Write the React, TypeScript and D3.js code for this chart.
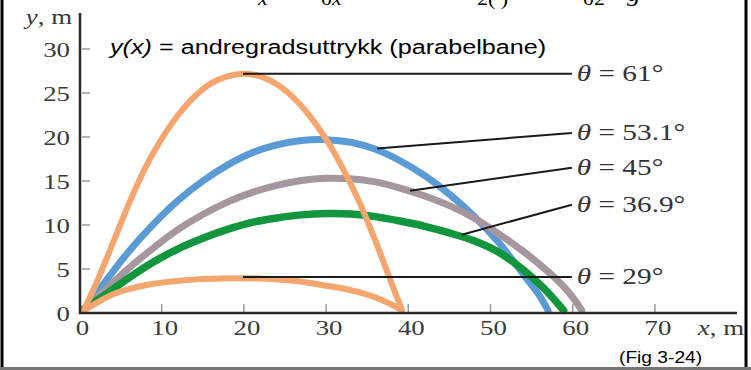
import React from "react";
import * as d3 from "d3";

const xTicks = [0, 10, 20, 30, 40, 50, 60, 70];
const yTicks = [0, 5, 10, 15, 20, 25, 30];

const traj61: [number, number][] = [[0.6,0.5],[2,3.3],[4,7.8],[6,12.4],[8,16.5],[10,19.8],[12,22.5],[14,24.6],[16,26.1],[18,26.9],[19.9,27.2],[22,26.9],[24,26.0],[26,24.5],[28,22.4],[30,19.75],[32,16.5],[34,12.7],[36,8.2],[38,3.3],[39.2,0.4]];
const traj531: [number, number][] = [[0.6,0.5],[3,3.4],[6,7.0],[9,10.1],[12,12.8],[15,15.0],[18,16.8],[21,18.2],[24,19.1],[27,19.6],[30,19.7],[33,19.4],[36,18.6],[39,17.3],[42,15.6],[45,13.5],[48,11.0],[51,8.0],[54,4.4],[55.8,2.2],[57,0.3]];
const traj45: [number, number][] = [[0.6,0.5],[3,2.5],[6,5.1],[9,7.4],[12,9.5],[15,11.2],[18,12.6],[21,13.7],[24,14.5],[27,15.05],[30,15.3],[33,15.25],[36,14.9],[39,14.2],[42,13.3],[45,12.2],[48,10.8],[51,9.0],[54,7.0],[57,4.7],[59,2.9],[60.3,1.4],[61.1,0.3]];
const traj369: [number, number][] = [[0.6,0.5],[3,2.0],[6,4.0],[9,5.8],[12,7.3],[15,8.5],[18,9.5],[21,10.3],[24,10.8],[27,11.15],[30,11.3],[33,11.25],[36,10.95],[39,10.45],[42,9.85],[45,9.1],[48,8.2],[51,6.9],[54,4.9],[56.5,2.8],[58.9,0.3]];
const traj29: [number, number][] = [[0.6,0.3],[2,1.1],[4,2.1],[6,2.7],[8,3.15],[10,3.45],[12.5,3.7],[15,3.85],[17.5,3.93],[20,3.95],[22.5,3.9],[25,3.75],[27.5,3.5],[30,3.1],[32.5,2.7],[35,2.1],[37,1.4],[38.5,0.7],[39.2,0.3]];

const angleLabels = ["61", "53.1", "45", "36.9", "29"];
// anchor on curve (data units) and label height (data units)
const anchorX = [19.9, 36.2, 40.2, 46.5, 19.9];
const anchorY = [27.2, 18.7, 13.9, 8.9, 4.1];
const labelY = [27.2, 20.45, 16.5, 12.3, 4.1];
const labelLineEndX = 59.9;
const labelTextX = 60.5;

const series = [
  { data: traj531, color: "#5b9bd5", width: 7 },
  { data: traj45, color: "#a5969f", width: 7 },
  { data: traj369, color: "#12963d", width: 7.5 },
  { data: traj29, color: "#f5a56e", width: 6 },
  { data: traj61, color: "#f5a56e", width: 6 },
];

const SX = 1.22;

function ST(props: any) {
  const { x, y, anchor = "start", size, family, fill = "#000", sx = SX, style, children } = props;
  return (
    <text
      transform={`translate(${x},${y}) scale(${sx},1)`}
      textAnchor={anchor}
      fontSize={size}
      fontFamily={family}
      fill={fill}
      style={style}
    >
      {children}
    </text>
  );
}

export default function App() {
  const W = 751, H = 370;
  const x = d3.scaleLinear().domain([0, 70]).range([79.5, 654.9]);
  const y = d3.scaleLinear().domain([0, 30]).range([313, 49]);
  const line = d3
    .line<[number, number]>()
    .x((d) => x(d[0]))
    .y((d) => y(d[1]))
    .curve(d3.curveCatmullRom.alpha(0.5));

  const serif = "'Liberation Serif', 'Times New Roman', serif";
  const sans = "'Liberation Sans', Arial, sans-serif";
  const tickCol = "#3a3a3a";

  return (
    <svg
      width={W}
      height={H}
      style={{ position: "absolute", left: 0, top: 0, background: "#fff" }}
    >
      <rect x={0} y={0} width={W} height={H} fill="#fff" />
      {/* clipped equation fragments at the very top */}
      <g fontFamily={serif} fill="#222">
        <ST x={258} y={5} size={18} family={serif} style={{ fontStyle: "italic" }}>x</ST>
        <ST x={321} y={5} size={18} family={serif}><tspan>0</tspan><tspan fontStyle="italic">x</tspan></ST>
        <ST x={477} y={5} size={18} family={serif}>2( )</ST>
        <ST x={583} y={5} size={18} family={serif}>02</ST>
        <ST x={627} y={1} size={22} family={serif} style={{ fontStyle: "italic" }}>g</ST>
      </g>

      {/* frame */}
      <line x1={2} y1={0} x2={2} y2={H} stroke="#000" strokeWidth={3} />
      <line x1={746} y1={0} x2={746} y2={H} stroke="#000" strokeWidth={3} />
      <line x1={0} y1={368.5} x2={W} y2={368.5} stroke="#777" strokeWidth={3} />

      {/* ticks */}
      {yTicks.filter((t) => t > 0).map((t) => (
        <line key={"yt" + t} x1={82} x2={90} y1={y(t)} y2={y(t)} stroke="#9a9a9a" strokeWidth={1.5} />
      ))}
      {xTicks.filter((t) => t > 0).map((t) => (
        <line key={"xt" + t} x1={x(t)} x2={x(t)} y1={304} y2={y(0)} stroke="#9a9a9a" strokeWidth={1.5} />
      ))}

      {/* tick labels */}
      {yTicks.map((t) => (
        <ST key={"yl" + t} x={70} y={y(t) + 8} anchor="end" size={22} family={serif} fill={tickCol}>
          {t}
        </ST>
      ))}
      {xTicks.map((t) => (
        <ST key={"xl" + t} x={x(t) + 3} y={335} anchor="middle" size={22} family={serif} fill={tickCol}>
          {t}
        </ST>
      ))}

      {/* axis titles */}
      <ST x={72} y={24} anchor="end" size={22} family={serif} fill={tickCol}>
        <tspan fontStyle="italic">y</tspan>, m
      </ST>
      <ST x={744} y={335} anchor="end" size={22} family={serif} fill={tickCol}>
        <tspan fontStyle="italic">x</tspan>, m
      </ST>

      {/* curves */}
      {series.map((s, i) => (
        <path
          key={"c" + i}
          d={line(s.data) || ""}
          fill="none"
          stroke={s.color}
          strokeWidth={s.width}
          strokeLinecap="round"
          strokeLinejoin="round"
        />
      ))}

      {/* axes */}
      <line x1={80} y1={13} x2={80} y2={314} stroke="#2a2a2a" strokeWidth={2.5} />
      <line x1={79} y1={313} x2={737} y2={313} stroke="#2a2a2a" strokeWidth={2.5} />

      {/* leader lines + angle labels */}
      {angleLabels.map((a, i) => (
        <g key={"lab" + a}>
          <line
            x1={x(anchorX[i])}
            y1={y(anchorY[i])}
            x2={x(labelLineEndX)}
            y2={y(labelY[i])}
            stroke="#1a1a1a"
            strokeWidth={2}
          />
          <ST x={x(labelTextX)} y={y(labelY[i]) + 7} size={24} family={serif} fill="#333">
            <tspan fontStyle="italic">θ</tspan> = {a}°
          </ST>
        </g>
      ))}

      {/* title */}
      <ST x={110} y={54} size={21} family={sans} sx={1.2} fill="#000">
        <tspan fontStyle="italic">y(x)</tspan> = andregradsuttrykk (parabelbane)
      </ST>

      <ST x={619} y={363} size={16} family={sans} sx={1.2} fill="#000">
        (Fig 3-24)
      </ST>
    </svg>
  );
}
